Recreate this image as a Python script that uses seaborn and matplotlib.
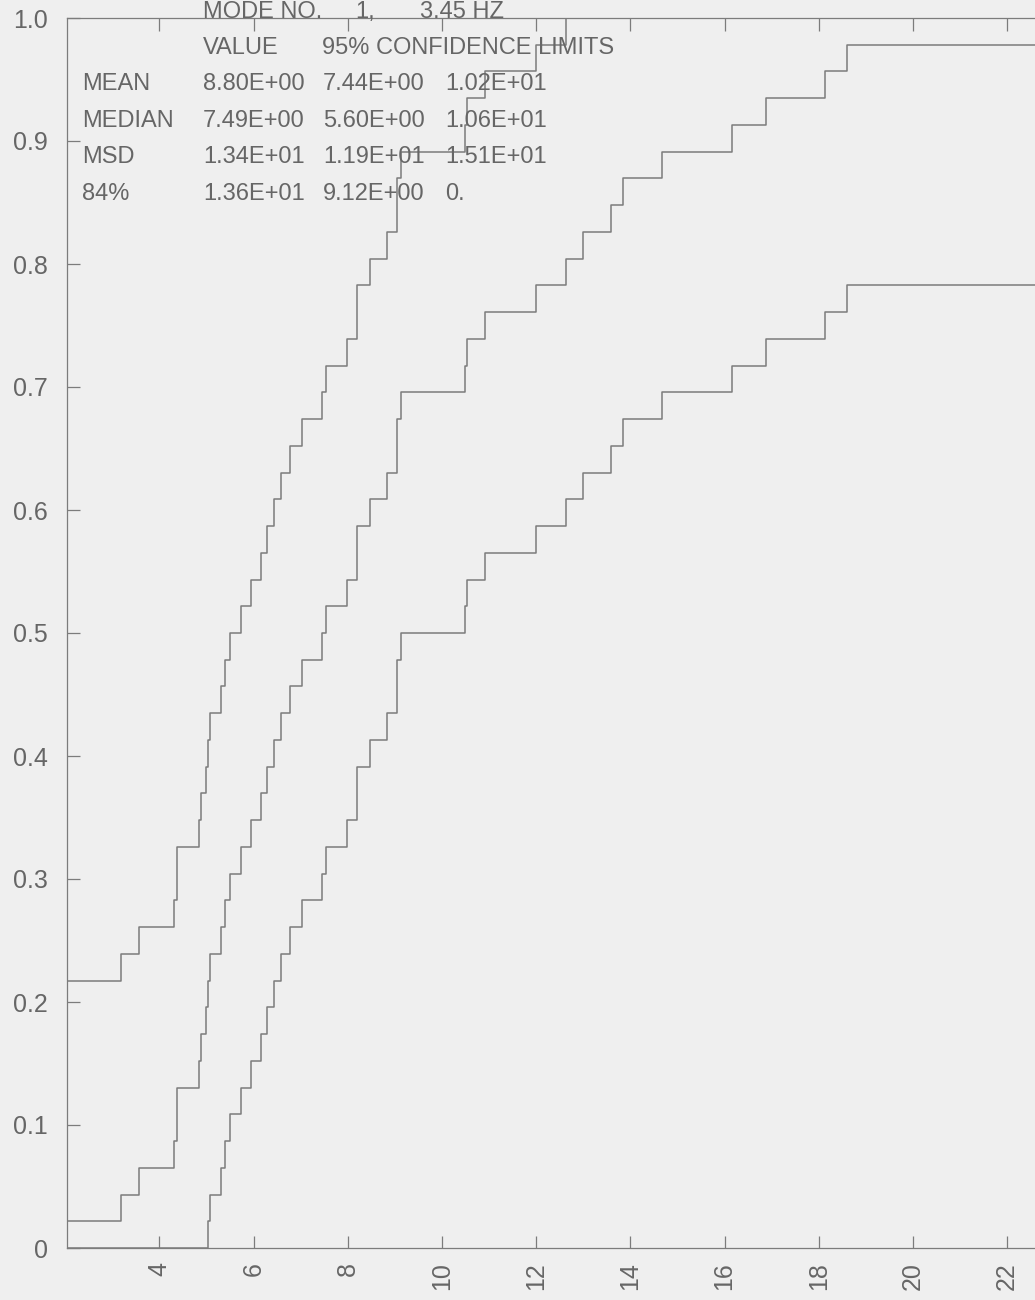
import matplotlib
matplotlib.use("Agg")
import matplotlib.pyplot as plt
import seaborn as sns

# sorted sample values (step positions, first/last are off-axis)
samples = [2.0, 3.18, 3.56, 4.32, 4.38, 4.38, 4.84, 4.88, 4.99, 5.04,
           5.07, 5.30, 5.39, 5.50, 5.73, 5.94, 6.16, 6.28, 6.43, 6.58,
           6.77, 7.03, 7.45, 7.53, 7.98, 8.19, 8.19, 8.47, 8.84, 9.04,
           9.04, 9.14, 10.49, 10.54, 10.91, 12.00, 12.63, 13.00, 13.59, 13.84,
           14.67, 16.16, 16.87, 18.13, 18.60, 25.7]

# cumulative probability after each sample
cdf_mid = [0.022, 0.043, 0.065, 0.087, 0.109, 0.130, 0.152, 0.174, 0.196, 0.217,
           0.239, 0.261, 0.283, 0.304, 0.326, 0.348, 0.370, 0.391, 0.413, 0.435,
           0.457, 0.478, 0.500, 0.522, 0.543, 0.565, 0.587, 0.609, 0.630, 0.652,
           0.674, 0.696, 0.717, 0.739, 0.761, 0.783, 0.804, 0.826, 0.848, 0.870,
           0.891, 0.913, 0.935, 0.957, 0.978, 1.0]
cdf_upper = [0.217, 0.239, 0.261, 0.283, 0.304, 0.326, 0.348, 0.370, 0.391, 0.413,
             0.435, 0.457, 0.478, 0.500, 0.522, 0.543, 0.565, 0.587, 0.609, 0.630,
             0.652, 0.674, 0.696, 0.717, 0.739, 0.761, 0.783, 0.804, 0.826, 0.848,
             0.870, 0.891, 0.913, 0.935, 0.957, 0.978, 1.0, 1.0, 1.0, 1.0,
             1.0, 1.0, 1.0, 1.0, 1.0, 1.0]
cdf_lower = [0.0, 0.0, 0.0, 0.0, 0.0, 0.0, 0.0, 0.0, 0.0, 0.022,
             0.043, 0.065, 0.087, 0.109, 0.130, 0.152, 0.174, 0.196, 0.217, 0.239,
             0.261, 0.283, 0.304, 0.326, 0.348, 0.370, 0.391, 0.413, 0.435, 0.457,
             0.478, 0.500, 0.522, 0.543, 0.565, 0.587, 0.609, 0.630, 0.652, 0.674,
             0.696, 0.717, 0.739, 0.761, 0.783, 0.804]

x_ticks = [4, 6, 8, 10, 12, 14, 16, 18, 20, 22]
y_ticks = [0, 0.1, 0.2, 0.3, 0.4, 0.5, 0.6, 0.7, 0.8, 0.9, 1.0]
y_labels = ["0", "0.1", "0.2", "0.3", "0.4", "0.5", "0.6", "0.7", "0.8", "0.9", "1.0"]

title_parts = ["MODE NO.", "1,", "3.45 HZ"]
header = ["VALUE", "95% CONFIDENCE LIMITS"]
row_names = ["MEAN", "MEDIAN", "MSD", "84%"]
row_values = [["8.80E+00", "7.44E+00", "1.02E+01"],
              ["7.49E+00", "5.60E+00", "1.06E+01"],
              ["1.34E+01", "1.19E+01", "1.51E+01"],
              ["1.36E+01", "9.12E+00", "0."]]

bg = "#efefef"
ink = "#666666"
line_gray = "#7c7c7c"

sns.set_style("ticks")
plt.rcParams["font.family"] = ["Liberation Sans Narrow", "Liberation Sans", "DejaVu Sans"]

W, H = 1035, 1300
fig = plt.figure(figsize=(W / 100, H / 100), dpi=100, facecolor=bg)
ax = fig.add_axes([67 / W, 52 / H, (W - 67) / W, 1230 / H])
ax.set_facecolor(bg)

for yv in [cdf_upper, cdf_mid, cdf_lower]:
    sns.lineplot(x=samples, y=yv, drawstyle="steps-post", estimator=None, sort=False,
                 color=line_gray, linewidth=1.1, ax=ax)

ax.set_xlim(2.04, 22.59)
ax.set_ylim(0, 1.0)
ax.set_xticks(x_ticks)
ax.set_xticklabels([str(t) for t in x_ticks], rotation=90)
ax.set_yticks(y_ticks)
ax.set_yticklabels(y_labels)
ax.tick_params(axis="both", direction="in", length=9, width=0.9, color=line_gray,
               labelcolor=ink, labelsize=18, top=True)
ax.tick_params(axis="x", pad=10)
ax.tick_params(axis="y", pad=14)
ax.spines["right"].set_visible(False)
for s in ["left", "bottom", "top"]:
    ax.spines[s].set_color(line_gray)
    ax.spines[s].set_linewidth(0.9)
ax.set_xlabel("")
ax.set_ylabel("")


def put(px, py, s):
    fig.text(px / W, 1 - py / H, s, color=ink, fontsize=17, va="baseline", ha="left")


put(203, 18, title_parts[0])
put(355, 18, title_parts[1])
put(420, 18, title_parts[2])
put(203, 54, header[0])
put(322, 54, header[1])
for i, (name, vals) in enumerate(zip(row_names, row_values)):
    yb = 90 + i * 36.7
    put(82, yb, name)
    for px, v in zip([203, 323, 445], vals):
        put(px, yb, v)

fig.savefig("out.png", dpi=100, facecolor=bg)
